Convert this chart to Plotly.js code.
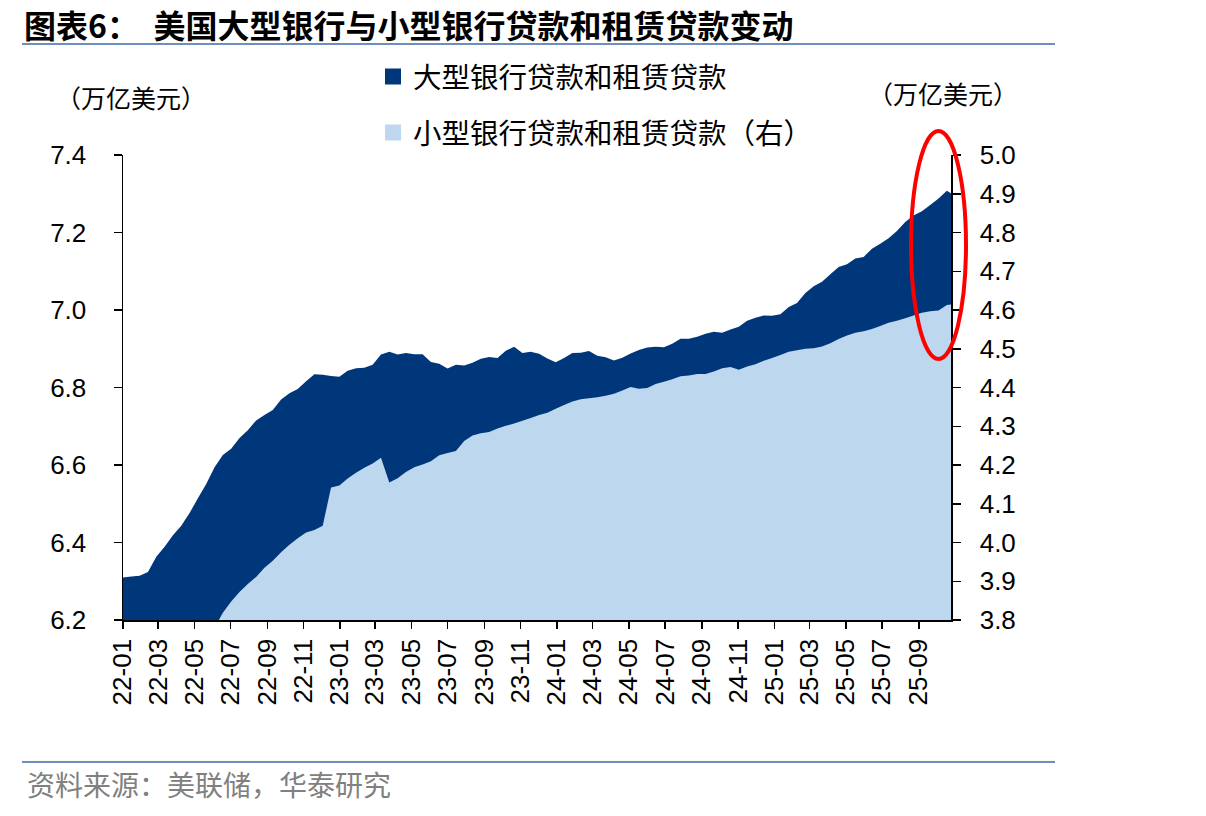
<!DOCTYPE html>
<html>
<head>
<meta charset="utf-8">
<script src="https://cdn.plot.ly/plotly-3.0.1.min.js"></script>
<style>
html,body{margin:0;padding:0;background:#fff;}
#chart{width:1206px;height:816px;}
</style>
</head>
<body>
<div id="chart"></div>
<script>
// Weekly observations sampled every two weeks (Wednesdays), plus the final week
const dates = [
"2022-01-05","2022-01-19","2022-02-02","2022-02-16","2022-03-02","2022-03-16","2022-03-30","2022-04-13","2022-04-27","2022-05-11",
"2022-05-25","2022-06-08","2022-06-22","2022-07-06","2022-07-20","2022-08-03","2022-08-17","2022-08-31","2022-09-14","2022-09-28",
"2022-10-12","2022-10-26","2022-11-09","2022-11-23","2022-12-07","2022-12-21","2023-01-04","2023-01-18","2023-02-01","2023-02-15",
"2023-03-01","2023-03-15","2023-03-29","2023-04-12","2023-04-26","2023-05-10","2023-05-24","2023-06-07","2023-06-21","2023-07-05",
"2023-07-19","2023-08-02","2023-08-16","2023-08-30","2023-09-13","2023-09-27","2023-10-11","2023-10-25","2023-11-08","2023-11-22",
"2023-12-06","2023-12-20","2024-01-03","2024-01-17","2024-01-31","2024-02-14","2024-02-28","2024-03-13","2024-03-27","2024-04-10",
"2024-04-24","2024-05-08","2024-05-22","2024-06-05","2024-06-19","2024-07-03","2024-07-17","2024-07-31","2024-08-14","2024-08-28",
"2024-09-11","2024-09-25","2024-10-09","2024-10-23","2024-11-06","2024-11-20","2024-12-04","2024-12-18","2025-01-01","2025-01-15",
"2025-01-29","2025-02-12","2025-02-26","2025-03-12","2025-03-26","2025-04-09","2025-04-23","2025-05-07","2025-05-21","2025-06-04",
"2025-06-18","2025-07-02","2025-07-16","2025-07-30","2025-08-13","2025-08-27","2025-09-10","2025-09-24","2025-10-08","2025-10-22",
"2025-10-29"
];

// 大型银行贷款和租赁贷款 (万亿美元, left axis)
const largeBankLoans = [
6.310,6.312,6.314,6.324,6.363,6.389,6.419,6.443,6.476,6.514,
6.551,6.594,6.626,6.642,6.670,6.690,6.715,6.729,6.742,6.769,
6.785,6.796,6.816,6.834,6.833,6.830,6.828,6.843,6.850,6.851,
6.859,6.885,6.892,6.885,6.889,6.886,6.886,6.866,6.861,6.849,
6.859,6.857,6.864,6.874,6.879,6.876,6.895,6.905,6.889,6.892,
6.887,6.875,6.865,6.876,6.889,6.890,6.894,6.882,6.878,6.870,
6.877,6.888,6.897,6.903,6.905,6.904,6.913,6.926,6.926,6.931,
6.939,6.944,6.941,6.950,6.957,6.972,6.980,6.986,6.985,6.989,
7.008,7.018,7.044,7.061,7.073,7.092,7.111,7.118,7.133,7.137,
7.158,7.171,7.185,7.204,7.227,7.244,7.255,7.271,7.288,7.308,
7.301
];

// 小型银行贷款和租赁贷款 (万亿美元, right axis)
const smallBankLoans = [
3.59,3.60,3.61,3.62,3.63,3.65,3.67,3.69,3.71,3.73,
3.76,3.78,3.819,3.848,3.872,3.893,3.911,3.935,3.953,3.975,
3.994,4.011,4.026,4.032,4.043,4.142,4.147,4.165,4.180,4.193,
4.204,4.219,4.155,4.166,4.182,4.194,4.201,4.210,4.225,4.231,
4.236,4.262,4.276,4.282,4.285,4.294,4.301,4.307,4.314,4.321,
4.329,4.335,4.345,4.355,4.364,4.370,4.372,4.375,4.379,4.384,
4.392,4.401,4.397,4.399,4.409,4.415,4.421,4.429,4.431,4.435,
4.435,4.441,4.450,4.453,4.446,4.454,4.460,4.469,4.476,4.484,
4.492,4.496,4.500,4.501,4.506,4.514,4.525,4.534,4.541,4.545,
4.551,4.559,4.567,4.572,4.579,4.586,4.593,4.597,4.599,4.613,
4.614
];

const seriesNames = ["大型银行贷款和租赁贷款", "小型银行贷款和租赁贷款（右）"];
const seriesColors = ["#00377A", "#BDD7EE"];
const leftTicks = [6.2, 6.4, 6.6, 6.8, 7.0, 7.2, 7.4];
const rightTicks = [3.8, 3.9, 4.0, 4.1, 4.2, 4.3, 4.4, 4.5, 4.6, 4.7, 4.8, 4.9, 5.0];

const titleText = "图表6：  美国大型银行与小型银行贷款和租赁贷款变动";
const unitText = "（万亿美元）";
const sourceText = "资料来源：美联储，华泰研究";

const CJK = "Noto Sans CJK SC, Noto Sans, sans-serif";
const NUM = "Liberation Sans, Arial, sans-serif";

// plot area in pixels: x 123..951, y 155..620
const L = 123, R = 951, T = 155, B = 620, W = 1206, H = 816;
const px = v => (v - L) / (R - L);
const py = v => (B - v) / (B - T);

const traces = [
  {
    x: dates, y: largeBankLoans, yaxis: "y", type: "scatter", mode: "none",
    fill: "tozeroy", fillcolor: seriesColors[0], showlegend: false, hoverinfo: "skip"
  },
  {
    x: dates, y: smallBankLoans, yaxis: "y2", type: "scatter", mode: "none",
    fill: "tozeroy", fillcolor: seriesColors[1], showlegend: false, hoverinfo: "skip"
  },
  {
    x: [null], y: [null], type: "scatter", mode: "markers", name: seriesNames[0],
    marker: {symbol: "square", size: 16, color: seriesColors[0]}, legend: "legend", showlegend: true
  },
  {
    x: [null], y: [null], type: "scatter", mode: "markers", name: seriesNames[1],
    marker: {symbol: "square", size: 16, color: seriesColors[1]}, legend: "legend2", showlegend: true
  }
];

const axisCommon = {
  showline: true, linecolor: "#000", linewidth: 1.5,
  ticks: "outside", ticklen: 8, tickwidth: 1.5, tickcolor: "#000",
  showgrid: false, zeroline: false,
  tickfont: {family: NUM, size: 26, color: "#000"}
};

const layout = {
  width: W, height: H,
  margin: {l: L, r: W - R, t: T, b: H - B, pad: 0},
  paper_bgcolor: "#fff", plot_bgcolor: "#fff",
  xaxis: Object.assign({}, axisCommon, {
    type: "date",
    range: ["2022-01-05", "2025-10-29"],
    tick0: "2022-01-05", dtick: "M2", tickformat: "%y-%m",
    tickangle: -90, ticklen: 7
  }),
  yaxis: Object.assign({}, axisCommon, {
    range: [6.2, 7.4], tickvals: leftTicks, tickformat: ".1f",
    ticklabelstandoff: 22
  }),
  yaxis2: Object.assign({}, axisCommon, {
    range: [3.8, 5.0], tickvals: rightTicks, tickformat: ".1f",
    overlaying: "y", side: "right", ticklabelstandoff: 14
  }),
  legend: {
    x: px(373), xanchor: "left", y: py(77), yanchor: "middle",
    bgcolor: "rgba(0,0,0,0)", font: {family: CJK, size: 28.5, color: "#000"}
  },
  legend2: {
    x: px(373), xanchor: "left", y: py(133), yanchor: "middle",
    bgcolor: "rgba(0,0,0,0)", font: {family: CJK, size: 28.5, color: "#000"}
  },
  annotations: [
    {text: "<b>" + titleText + "</b>", xref: "paper", yref: "paper", x: px(22), y: py(24),
     xanchor: "left", yanchor: "middle", showarrow: false,
     font: {family: CJK, size: 32, color: "#000"}},
    {text: unitText, xref: "paper", yref: "paper", x: px(131), y: py(97),
     xanchor: "center", yanchor: "middle", showarrow: false,
     font: {family: CJK, size: 25, color: "#000"}},
    {text: unitText, xref: "paper", yref: "paper", x: px(943), y: py(93),
     xanchor: "center", yanchor: "middle", showarrow: false,
     font: {family: CJK, size: 25, color: "#000"}},
    {text: sourceText, xref: "paper", yref: "paper", x: px(25), y: py(784),
     xanchor: "left", yanchor: "middle", showarrow: false,
     font: {family: CJK, size: 28, color: "#808080"}}
  ],
  shapes: [
    {type: "line", xref: "paper", yref: "paper", x0: px(22), x1: px(1055), y0: py(44), y1: py(44),
     line: {color: "#6D8EBF", width: 2}},
    {type: "line", xref: "paper", yref: "paper", x0: px(22), x1: px(1055), y0: py(762), y1: py(762),
     line: {color: "#6D8EBF", width: 2}},
    {type: "circle", xref: "paper", yref: "paper", x0: px(911), x1: px(966), y0: py(359), y1: py(131),
     line: {color: "#FF0000", width: 4}, fillcolor: "rgba(0,0,0,0)"}
  ]
};

Plotly.newPlot("chart", traces, layout, {staticPlot: true});
</script>
</body>
</html>
